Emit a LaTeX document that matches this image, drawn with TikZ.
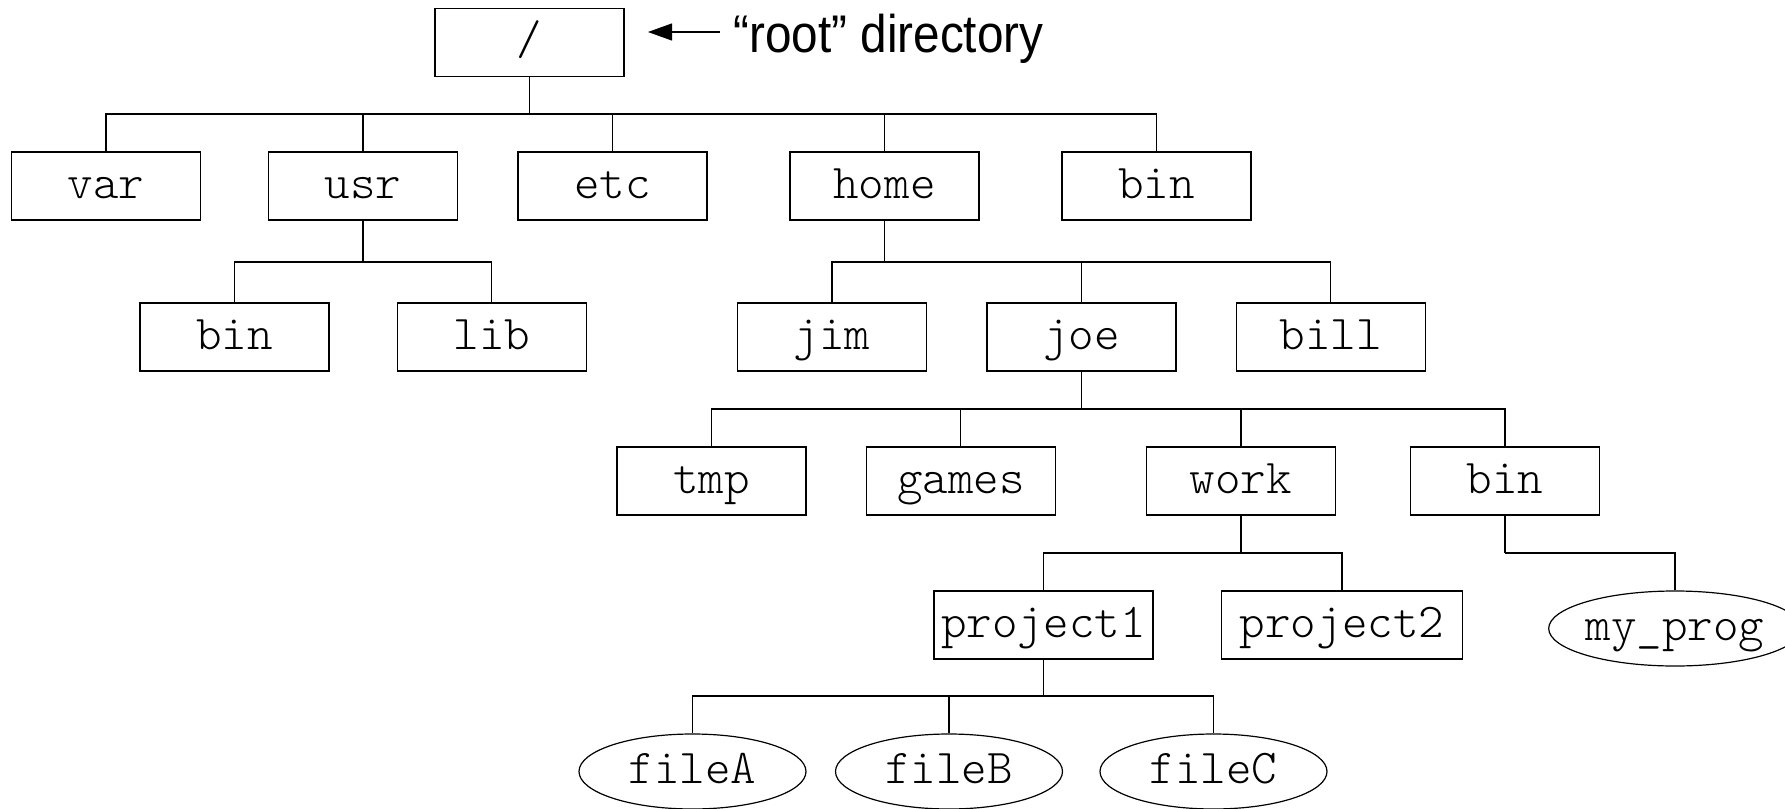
\documentclass[tikz,border=0pt]{standalone}
\usepackage{fontspec}
\newfontfamily\labelfont[FakeStretch=0.9]{Liberation Sans}
\newfontfamily\treefont{Latin Modern Mono Light}
\usetikzlibrary{shapes.geometric,arrows.meta}

\begin{document}
\begin{tikzpicture}[x=0.5pt,y=-0.5pt,
  dirbox/.style={draw, line width=0.6pt, rectangle, minimum width=94.5pt,
    minimum height=34pt, inner sep=0pt,
    font=\treefont\fontsize{24.3}{24}\selectfont, text height=13pt, text depth=1pt},
  filenode/.style={draw, ellipse, line width=0.6pt, minimum width=113.5pt,
    minimum height=37.5pt, inner sep=0pt,
    font=\treefont\fontsize{24.3}{24}\selectfont, text height=13pt, text depth=1pt},
  conn/.style={line width=0.6pt},
  stem/.style={line width=0.9pt},
  pointer/.style={line width=0.6pt, -{Triangle[length=12pt,width=8.5pt]}}]
\useasboundingbox (0,0) rectangle (1785,809);

% rows of the tree
\coordinate (bus1) at (0,114);
\coordinate (bus2) at (0,262);
\coordinate (bus3) at (0,409);
\coordinate (bus4) at (0,553);
\coordinate (bus5) at (0,696);

\node[dirbox] (root) at (529.5,42.5) {/};

\node[dirbox] (var)  at (106,186)   {var};
\node[dirbox] (usr)  at (363,186)   {usr};
\node[dirbox] (etc)  at (612.5,186) {etc};
\node[dirbox] (home) at (884.5,186) {home};
\node[dirbox] (bin)  at (1156.5,186) {bin};

\node[dirbox] (usrbin) at (234.5,337)  {bin};
\node[dirbox] (lib)    at (491.8,337)  {lib};
\node[dirbox] (jim)    at (832,337)    {jim};
\node[dirbox] (joe)    at (1081.5,337) {joe};
\node[dirbox] (bill)   at (1330.8,337) {bill};

\node[dirbox] (tmp)    at (711.5,481)  {tmp};
\node[dirbox] (games)  at (960.8,481)  {games};
\node[dirbox] (work)   at (1240.9,481) {work};
\node[dirbox] (joebin) at (1505,481)   {bin};

\node[dirbox, minimum width=109.5pt] (proj1) at (1043.5,625) {project1};
\node[dirbox, minimum width=120.5pt] (proj2) at (1342,625)   {project2};
\node[filenode, minimum width=111.5pt] (myprog) at (1675,628.5) {my\_prog};

\node[filenode] (fileA) at (692.5,771.5) {fileA};
\node[filenode] (fileB) at (949,771.5)   {fileB};
\node[filenode] (fileC) at (1213.5,771.5) {fileC};

% connectors: a stem below each parent, then a bus down to every child
\draw[stem] (root.south) -- (root.south |- bus1);
\foreach \c in {var,usr,etc,home,bin}
  \draw[conn] (root.south |- bus1) -| (\c.north);

\draw[stem] (usr.south) -- (usr.south |- bus2);
\foreach \c in {usrbin,lib}
  \draw[conn] (usr.south |- bus2) -| (\c.north);

\draw[stem] (home.south) -- (home.south |- bus2);
\foreach \c in {jim,joe,bill}
  \draw[conn] (home.south |- bus2) -| (\c.north);

\draw[stem] (joe.south) -- (joe.south |- bus3);
\foreach \c in {tmp,games,work,joebin}
  \draw[conn] (joe.south |- bus3) -| (\c.north);

\draw[stem] (work.south) -- (work.south |- bus4);
\foreach \c in {proj1,proj2}
  \draw[conn] (work.south |- bus4) -| (\c.north);

\draw[stem] (joebin.south) -- (joebin.south |- bus4);
\draw[conn] (joebin.south |- bus4) -| (myprog.north);

\draw[stem] (proj1.south) -- (proj1.south |- bus5);
\foreach \c in {fileA,fileB,fileC}
  \draw[conn] (proj1.south |- bus5) -| (\c.north);

% label pointing at the root
\coordinate (arrowtip) at (648,32);
\node[anchor=base west, inner sep=0pt, font=\labelfont\fontsize{26.5}{30}\selectfont]
  (rootlabel) at (733,52) {“root” directory};
\draw[pointer, shorten <=6.5pt] (rootlabel.west |- arrowtip) -- (arrowtip);
\end{tikzpicture}
\end{document}
